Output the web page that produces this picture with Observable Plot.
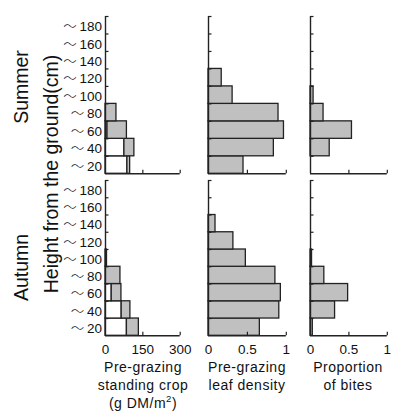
<!DOCTYPE html>
<html><head><meta charset="utf-8">
<script src="https://cdn.jsdelivr.net/npm/d3@7"></script>
<script src="https://cdn.jsdelivr.net/npm/@observablehq/plot@0.6"></script>
<style>
body{margin:0;background:#fff;}
#c{position:relative;width:393px;height:416px;overflow:hidden;font-family:"Liberation Sans",Arial,sans-serif;}
#c > svg{position:absolute;}
</style>
</head><body><div id="c"></div>
<script>
// ---- data ----
const seasons = ["Summer", "Autumn"];
const heightBins = [20, 40, 60, 80, 100, 120, 140, 160, 180];
const heightTickLabels = ["〜\u200920", "〜\u200940", "〜\u200960", "〜\u200980", "〜\u2009100", "〜\u2009120", "〜\u2009140", "〜\u2009160", "〜\u2009180"];
const cropTicks = [0, 150, 300];
const proportionTicks = [0, 0.5, 1];
// pre-grazing standing crop (g DM/m2): white (non-leaf) part and grey (leaf) part, stacked
const summerCropWhite = [88, 76, 8, 0, 0, 0, 0, 0, 0];
const summerCropGrey  = [11, 40, 78, 44, 0, 0, 0, 0, 0];
const autumnCropWhite = [86, 65, 25, 0, 0, 0, 0, 0, 0];
const autumnCropGrey  = [48, 35, 39, 60, 6, 0, 0, 0, 0];
// pre-grazing leaf density
const summerLeafDensity = [0.45, 0.84, 0.97, 0.90, 0.31, 0.17, 0, 0, 0];
const autumnLeafDensity = [0.66, 0.91, 0.93, 0.86, 0.48, 0.32, 0.09, 0, 0];
// proportion of bites
const summerBites = [0, 0.25, 0.54, 0.17, 0.04, 0, 0, 0, 0];
const autumnBites = [0.03, 0.32, 0.49, 0.18, 0.02, 0, 0, 0, 0];
const xLabelLines = [
  ["Pre-grazing", "standing crop", "(g DM/m²)"],
  ["Pre-grazing", "leaf density"],
  ["Proportion", "of bites"]
];
const yTitle = "Height from the ground(cm)";

// ---- build ----
const GREY = "#c0c0c0", INK = "#222";
const FONT = "'Liberation Sans', Arial, 'Noto Sans CJK JP', sans-serif";
const container = document.getElementById("c");

function stackedRects(white, grey) {
  const out = [];
  heightBins.forEach((h, i) => {
    if (white[i] > 0) out.push({h, x1: 0, x2: white[i], fill: "#fff"});
    if (grey[i] > 0) out.push({h, x1: white[i], x2: white[i] + grey[i], fill: GREY});
  });
  return out;
}
function simpleRects(vals) {
  return heightBins.map((h, i) => ({h, x1: 0, x2: vals[i], fill: GREY})).filter(d => d.x2 > 0);
}

function panel({x0, x1, top, bottom, xmax, ticks, rects, yLabels, xLabels}) {
  const mL = yLabels ? 56 : 3, mR = 5, mT = 3, mB = xLabels ? 26 : 3;
  const w = (x1 - x0) + mL + mR, h = (bottom - top) + mT + mB;
  const marks = [
    Plot.rect(rects.filter(d => d.fill === "#fff"), {x1: "x1", x2: "x2", y1: d => d.h - 20, y2: d => d.h, fill: "#fff", stroke: INK, strokeWidth: 1.3}),
    Plot.rect(rects.filter(d => d.fill !== "#fff"), {x1: "x1", x2: "x2", y1: d => d.h - 20, y2: d => d.h, fill: GREY, stroke: INK, strokeWidth: 1.3}),
    Plot.ruleX([0], {x: d => d, y1: () => 0, y2: () => 180, stroke: INK, strokeWidth: 1.4}),
    Plot.ruleY([0], {y: d => d, x1: () => 0, x2: () => xmax, stroke: INK, strokeWidth: 1.4}),
    Plot.axisY({anchor: "left", ticks: heightBins, tickSize: -3.5, tickFormat: () => "", stroke: INK, strokeWidth: 1.2}),
    Plot.axisX({anchor: "bottom", ticks: ticks.slice(1), tickSize: -3.5, tickFormat: () => "", stroke: INK, strokeWidth: 1.2})
  ];
  if (yLabels) {
    marks.push(Plot.text(heightBins, {x: () => 0, y: d => d - 10, text: (d, i) => heightTickLabels[i],
      textAnchor: "end", dx: -3.5, dy: 1.5, fontSize: 13.5, fontWeight: 300, fill: "#111", fontFamily: FONT}));
  }
  if (xLabels) {
    marks.push(Plot.text(ticks, {x: d => d, y: () => 0, text: d => String(d), dy: 13.5,
      fontSize: 13.5, fill: "#111", fontFamily: FONT}));
  }
  const svg = Plot.plot({
    width: w, height: h, marginLeft: mL, marginRight: mR, marginTop: mT, marginBottom: mB,
    x: {domain: [0, xmax], axis: null},
    y: {domain: [0, 180], axis: null},
    style: {background: "transparent", overflow: "visible"},
    marks
  });
  svg.style.left = (x0 - mL) + "px";
  svg.style.top = (top - mT) + "px";
  container.appendChild(svg);
}

const rows = [
  {top: 15.7, bottom: 173, crop: stackedRects(summerCropWhite, summerCropGrey), leaf: simpleRects(summerLeafDensity), bites: simpleRects(summerBites), xLabels: false},
  {top: 180, bottom: 335.3, crop: stackedRects(autumnCropWhite, autumnCropGrey), leaf: simpleRects(autumnLeafDensity), bites: simpleRects(autumnBites), xLabels: true}
];
const cols = [
  {x0: 105.3, x1: 180, xmax: 300, ticks: cropTicks, key: "crop", yLabels: true},
  {x0: 208.2, x1: 286, xmax: 1, ticks: proportionTicks, key: "leaf", yLabels: false},
  {x0: 310, x1: 386.8, xmax: 1, ticks: proportionTicks, key: "bites", yLabels: false}
];
rows.forEach(r => cols.forEach(c => panel({x0: c.x0, x1: c.x1, top: r.top, bottom: r.bottom, xmax: c.xmax, ticks: c.ticks,
  rects: r[c.key], yLabels: c.yLabels, xLabels: r.xLabels})));

// ---- text overlay ----
const ov = d3.select(container).append("svg").attr("width", 393).attr("height", 416)
  .style("left", "0px").style("top", "0px").style("pointer-events", "none")
  .attr("font-family", FONT).attr("fill", "#111");
const seasonCenters = [87, 267.5];
seasons.forEach((s, i) => {
  ov.append("text").attr("transform", `translate(27.5,${seasonCenters[i]}) rotate(-90)`)
    .attr("text-anchor", "middle").attr("font-size", 19.5).text(s);
});
ov.append("text").attr("transform", "translate(58,174) rotate(-90)")
  .attr("text-anchor", "middle").attr("font-size", 19.5).text(yTitle);
const colCenters = [143, 247, 348];
const baselines = [372, 390, 408];
xLabelLines.forEach((lines, ci) => {
  lines.forEach((line, li) => {
    const t = ov.append("text").attr("x", colCenters[ci]).attr("y", baselines[li])
      .attr("text-anchor", "middle").attr("font-size", 14).attr("letter-spacing", "0.5px");
    const m = line.match(/^(.*)²(.*)$/);
    if (m) {
      t.append("tspan").text(m[1]);
      t.append("tspan").attr("font-size", 9.5).attr("dy", -6).text("2");
      t.append("tspan").attr("dy", 6).text(m[2]);
    } else t.text(line);
  });
});
</script>
</body></html>
